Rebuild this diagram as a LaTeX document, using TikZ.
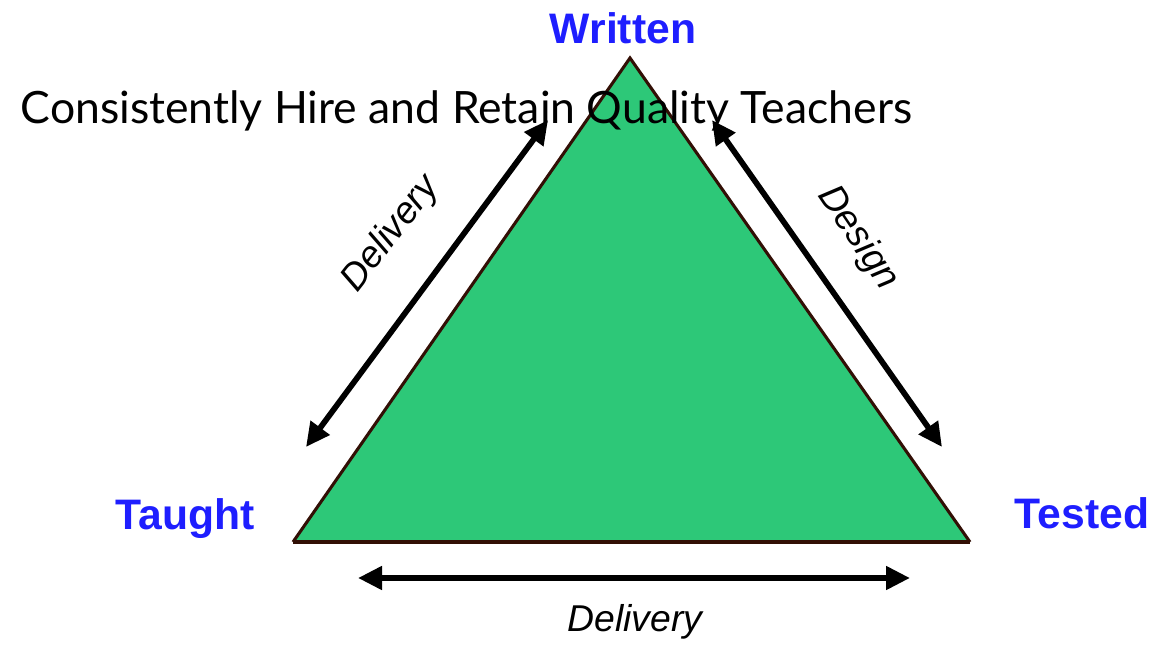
\documentclass[tikz,border=0pt]{standalone}
\usepackage{fontspec}
\setmainfont{Liberation Sans}
\newfontfamily\titlefont{Lato}
\usetikzlibrary{arrows.meta}
\definecolor{trigreen}{RGB}{45,200,120}
\definecolor{labelblue}{RGB}{30,30,255}
\definecolor{edgebrown}{RGB}{50,15,5}
\tikzset{
	corner/.style={font=\fontsize{32}{36}\selectfont\bfseries,text=labelblue},
	leg/.style={line width=4.3pt,{Triangle[length=18pt,width=17pt]}-{Triangle[length=18pt,width=17pt]}},
	leglabel/.style={font=\fontsize{28}{30}\selectfont\itshape}
}
\begin{document}
\begin{tikzpicture}[x=0.75pt,y=-0.75pt]
	\useasboundingbox (0,0) rectangle (1158,646);
	\coordinate (apex) at (630,58);
	\coordinate (lcorner) at (293,542);
	\coordinate (rcorner) at (970,542);
	\fill[trigreen] (apex) -- (rcorner) -- (lcorner) -- cycle;
	\draw[edgebrown,line width=2.3pt,line join=miter] (lcorner) -- (apex) -- (rcorner);
	\draw[edgebrown,line width=3.5pt] (lcorner) -- (rcorner);
	\node[corner,anchor=base] (written) at (623,43) {Written};
	\node[corner,anchor=base] (taught) at (185,529) {Taught};
	\node[corner,anchor=base] (tested) at (1082,528) {Tested};
	\node[font=\titlefont\fontsize{33.4}{36}\selectfont,anchor=base west] (title) at (16,123) {Consistently Hire and Retain Quality Teachers};
	% the three legs
	\coordinate (l1) at (548,120);
	\coordinate (l2) at (306,447);
	\coordinate (r1) at (712,120);
	\coordinate (r2) at (942,447);
	\coordinate (b1) at (358,578);
	\coordinate (b2) at (910,578);
	\draw[leg] (l1) -- (l2);
	\draw[leg] (r1) -- (r2);
	\draw[leg] (b1) -- (b2);
	\node[leglabel,rotate=52] (ldelivery) at (391,234) {Delivery};
	\node[leglabel,rotate=-56] (design) at (858,238) {Design};
	\node[leglabel] (bdelivery) at (635,622) {Delivery};
\end{tikzpicture}
\end{document}
